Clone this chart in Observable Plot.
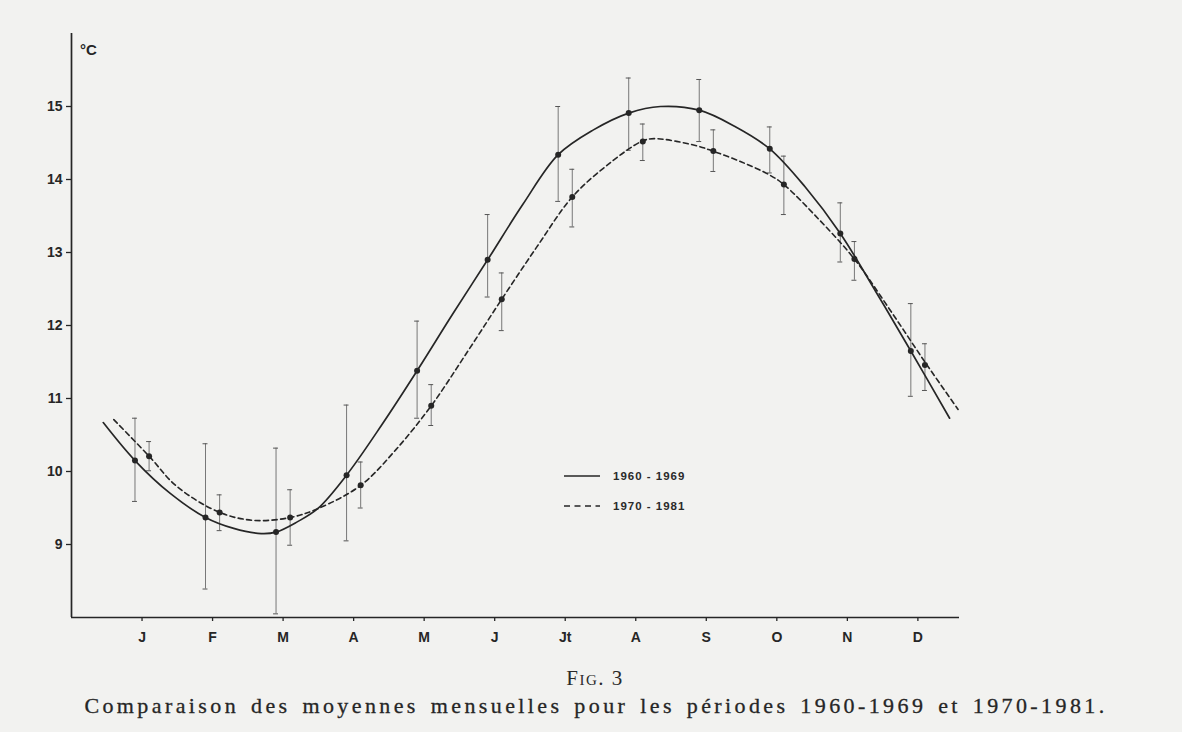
<!DOCTYPE html>
<html>
<head>
<meta charset="utf-8">
<script src="https://cdn.jsdelivr.net/npm/d3@7"></script>
<script src="https://cdn.jsdelivr.net/npm/@observablehq/plot@0.6"></script>
<style>
  html, body { margin: 0; padding: 0; background: #f2f2f0; }
  #wrap { position: relative; width: 1182px; height: 732px; overflow: hidden; color: #2a2a2a; }
  #legend { position: absolute; left: 563px; top: 461px; font-family: "Liberation Sans", Arial, sans-serif; font-weight: bold; font-size: 11.5px; letter-spacing: 1px; color: #2a2a2a; }
  #legend .row { display: flex; align-items: center; height: 30px; }
  #legend svg { margin-right: 12px; }
  #fig { position: absolute; top: 666px; left: 4px; width: 1182px; text-align: center; font-family: "Liberation Serif", "DejaVu Serif", serif; font-size: 21px; font-variant: small-caps; letter-spacing: 1.5px; color: #2a2a2a; }
  #caption { position: absolute; top: 693px; left: 0; width: 1192px; text-align: center; font-family: "Liberation Serif", "DejaVu Serif", serif; font-size: 22px; letter-spacing: 3.4px; word-spacing: 3px; color: #262626; -webkit-text-stroke: 0.3px #262626; }
</style>
</head>
<body>
<div id="wrap">
  <div id="chart"></div>
  <div id="legend"></div>
  <div id="fig">Fig. 3</div>
  <div id="caption">Comparaison des moyennes mensuelles pour les périodes 1960-1969 et 1970-1981.</div>
</div>
<script>
// Month tick labels
const months = ["J", "F", "M", "A", "M", "J", "Jt", "A", "S", "O", "N", "D"];
const monthIdx = [1, 2, 3, 4, 5, 6, 7, 8, 9, 10, 11, 12];
const yTicks = [9, 10, 11, 12, 13, 14, 15];

// Monthly means and error bars, 1960-1969
const mean6069 = [10.15, 9.37, 9.17, 9.95, 11.38, 12.90, 14.34, 14.91, 14.95, 14.42, 13.26, 11.65];
const low6069  = [9.59, 8.39, 8.05, 9.05, 10.73, 12.39, 13.70, 14.40, 14.52, 14.09, 12.87, 11.03];
const high6069 = [10.73, 10.38, 10.32, 10.91, 12.06, 13.52, 15.00, 15.39, 15.37, 14.72, 13.68, 12.30];

// Monthly means and error bars, 1970-1981
const mean7081 = [10.21, 9.44, 9.37, 9.81, 10.90, 12.36, 13.76, 14.52, 14.39, 13.93, 12.91, 11.46];
const low7081  = [10.01, 9.19, 8.99, 9.50, 10.63, 11.93, 13.35, 14.26, 14.11, 13.52, 12.62, 11.11];
const high7081 = [10.41, 9.68, 9.75, 10.13, 11.19, 12.72, 14.14, 14.76, 14.68, 14.32, 13.15, 11.75];

// Fitted curves (month position, °C)
const fit6069_m = [0.45, 0.9, 1.4, 1.9, 2.3, 2.69, 2.9, 3.2, 3.49, 3.9, 4.4, 4.9, 5.4, 5.9, 6.4, 6.9, 7.4, 7.9, 8.35, 8.9, 9.4, 9.9, 10.4, 10.9, 11.4, 11.9, 12.45];
const fit6069_v = [10.67, 10.15, 9.70, 9.37, 9.22, 9.15, 9.17, 9.31, 9.49, 9.95, 10.64, 11.38, 12.15, 12.90, 13.66, 14.34, 14.68, 14.91, 15.00, 14.95, 14.73, 14.42, 13.90, 13.26, 12.47, 11.65, 10.73];
const fit7081_m = [0.6, 1.1, 1.5, 2.1, 2.59, 3.1, 3.49, 4.1, 4.6, 5.1, 5.6, 6.1, 6.6, 7.1, 7.6, 8.08, 8.26, 8.87, 9.09, 9.5, 9.9, 10.1, 10.6, 11.1, 11.6, 12.1, 12.57];
const fit7081_v = [10.71, 10.21, 9.79, 9.44, 9.33, 9.37, 9.49, 9.81, 10.30, 10.90, 11.62, 12.36, 13.08, 13.76, 14.20, 14.52, 14.56, 14.46, 14.39, 14.24, 14.06, 13.93, 13.45, 12.91, 12.22, 11.50, 10.85];

const seriesNames = ["1960 - 1969", "1970 - 1981"];
const offset = 0.1; // the two periods are drawn just either side of the month

const points = [];
monthIdx.forEach((m, i) => {
  points.push({s: 0, m: m - offset, v: mean6069[i], lo: low6069[i], hi: high6069[i]});
  points.push({s: 1, m: m + offset, v: mean7081[i], lo: low7081[i], hi: high7081[i]});
});
const caps = points.flatMap(d => [{m: d.m, y: d.lo}, {m: d.m, y: d.hi}]);
const fitA = fit6069_m.map((m, i) => ({m, v: fit6069_v[i]}));
const fitB = fit7081_m.map((m, i) => ({m, v: fit7081_v[i]}));

const ink = "#262626";
const chart = Plot.plot({
  width: 1182,
  height: 660,
  marginLeft: 71,
  marginRight: 223,
  marginTop: 33,
  marginBottom: 43,
  style: {background: "transparent", color: ink, fontFamily: "'Liberation Sans', Arial, sans-serif", fontSize: "14px", fontWeight: "bold", overflow: "visible"},
  x: {domain: [0, 12.59]},
  y: {domain: [8, 16]},
  marks: [
    Plot.axisX({ticks: monthIdx, tickFormat: m => months[m - 1], tickSize: 4, tickPadding: 11, label: null, fontSize: 14, fontWeight: "bold", strokeWidth: 1.3}),
    Plot.axisY({ticks: yTicks, tickSize: 5, tickPadding: 4, label: null, fontSize: 14, fontWeight: "bold", strokeWidth: 1.3}),
    Plot.ruleX([0], {stroke: ink, strokeWidth: 1.7}),
    Plot.ruleY([8], {stroke: ink, strokeWidth: 1.7}),
    Plot.ruleX(points, {x: "m", y1: "lo", y2: "hi", stroke: "#6a6a6a", strokeWidth: 0.9}),
    Plot.ruleY(caps, {x1: d => d.m - 0.035, x2: d => d.m + 0.035, y: "y", stroke: "#555", strokeWidth: 1}),
    Plot.line(fitA, {x: "m", y: "v", curve: "catmull-rom", stroke: ink, strokeWidth: 1.7}),
    Plot.line(fitB, {x: "m", y: "v", curve: "catmull-rom", stroke: ink, strokeWidth: 1.6, strokeDasharray: "5,3.5"}),
    Plot.dot(points, {x: "m", y: "v", r: 3, fill: ink, stroke: "none"}),
    Plot.text(["°C"], {frameAnchor: "top-left", dx: 17, dy: 11, text: d => d, fontSize: 15, fontWeight: "bold", textAnchor: "middle"})
  ]
});
document.getElementById("chart").appendChild(chart);

// Legend
const legend = document.getElementById("legend");
seriesNames.forEach((name, i) => {
  const row = document.createElement("div");
  row.className = "row";
  const dash = i === 1 ? ' stroke-dasharray="6,4.5"' : '';
  row.innerHTML = `<svg width="38" height="6"><line x1="1" y1="3" x2="37" y2="3" stroke="${ink}" stroke-width="1.7"${dash}/></svg><span>${name}</span>`;
  legend.appendChild(row);
});
</script>
</body>
</html>
